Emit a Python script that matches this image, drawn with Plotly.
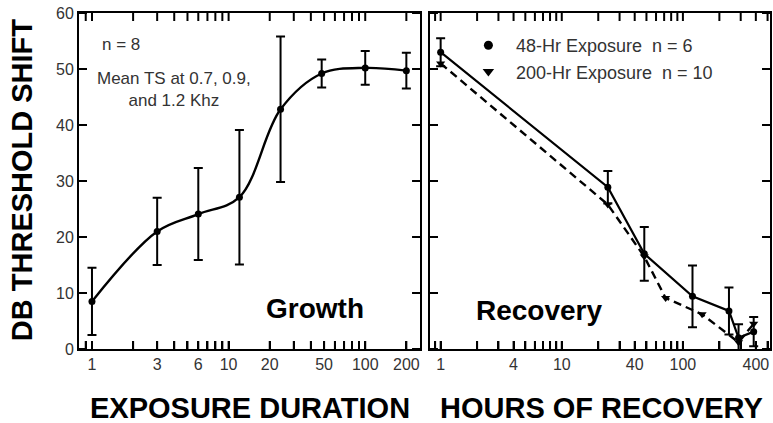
import plotly.graph_objects as go

# Growth of threshold shift with exposure duration (mean of 0.7, 0.9, 1.2 kHz)
growth_hours = [1, 3, 6, 12, 24, 48, 100, 200]
growth_ts = [8.5, 21.0, 24.1, 27.1, 42.8, 49.2, 50.2, 49.7]
growth_err = [6.0, 6.0, 8.2, 12.0, 13.0, 2.5, 3.0, 3.2]

# Recovery after a 48-hour exposure (with error bars)
rec48_hours = [1, 24, 48, 120, 240, 288, 384]
rec48_ts = [53.0, 28.9, 17.0, 9.4, 6.8, 2.0, 3.1]
rec48_err = [2.5, 2.9, 4.8, 5.5, 4.2, 2.4, 2.6]

# Recovery after a 200-hour exposure
rec200_hours = [1, 24, 48, 72, 144, 288, 384]
rec200_ts = [51.0, 25.8, 16.5, 9.1, 6.2, 1.2, 4.5]

growth_ticks = [1, 3, 6, 10, 20, 50, 100, 200]
growth_minor = [0.9, 2, 4, 5, 7, 8, 9, 30, 40, 60, 70, 80, 90]
recovery_ticks = [1, 4, 10, 40, 100, 400]
recovery_minor = [0.9, 2, 3, 5, 6, 7, 8, 9, 20, 30, 50, 60, 70, 80, 90, 200, 300, 500]
y_ticks = [0, 10, 20, 30, 40, 50, 60]

FONT = "Liberation Sans, Arial, sans-serif"
INK = "black"
GREY = "#333333"

W, H = 773, 423
ML, MR, MT, MB = 79, 1, 13, 74
PW = W - ML - MR
PH = H - MT - MB
TICK_LEN = 8  # px, pointing into each panel

GROWTH_RANGE = [-0.095, 2.401]      # log10 hours
RECOVERY_RANGE = [-0.088, 2.719]    # log10 hours
Y_RANGE = [0, 60]


def px_x(p):
    return (p - ML) / PW


def px_y(p):
    return (H - MB - p) / PH


def log_ticks(labelled, unlabelled):
    vals = sorted(labelled + unlabelled)
    text = [str(v) if v in labelled else "" for v in vals]
    return vals, text


fig = go.Figure()

fig.add_trace(go.Scatter(
    x=growth_hours, y=growth_ts, xaxis="x", yaxis="y",
    mode="lines+markers", line=dict(color=INK, width=2.4, shape="spline", smoothing=1.0),
    marker=dict(symbol="circle", size=7, color=INK),
    error_y=dict(type="data", array=growth_err, color=INK, thickness=2, width=4.5),
    showlegend=False, cliponaxis=False,
))

fig.add_trace(go.Scatter(
    x=rec200_hours, y=rec200_ts, xaxis="x2", yaxis="y2",
    mode="lines+markers", line=dict(color=INK, width=2.4, dash="8px,5px"),
    marker=dict(symbol="triangle-down", size=8, color=INK),
    showlegend=False, cliponaxis=False,
))

fig.add_trace(go.Scatter(
    x=rec48_hours, y=rec48_ts, xaxis="x2", yaxis="y2",
    mode="lines+markers", line=dict(color=INK, width=2.2),
    marker=dict(symbol="circle", size=7, color=INK),
    error_y=dict(type="data", array=rec48_err, color=INK, thickness=2, width=4.5),
    showlegend=False, cliponaxis=False,
))

# legend entries
fig.add_trace(go.Scatter(
    x=[None], y=[None], xaxis="x2", yaxis="y2", mode="markers",
    marker=dict(symbol="circle", size=9, color=INK),
    name="48-Hr Exposure  n = 6",
))
fig.add_trace(go.Scatter(
    x=[None], y=[None], xaxis="x2", yaxis="y2", mode="markers",
    marker=dict(symbol="triangle-down", size=10, color=INK),
    name="200-Hr Exposure  n = 10",
))

gx_vals, gx_text = log_ticks(growth_ticks, growth_minor)
rx_vals, rx_text = log_ticks(recovery_ticks, recovery_minor)

left_end = px_x(421)
right_start = px_x(431)
panel_w = {"x": (left_end - 0) * PW, "x2": (1 - right_start) * PW}


# inward tick marks on all four sides of each panel, as axis-referenced shapes
def frame_ticks(xa, ya, xvals):
    shapes = []
    dy = TICK_LEN / PH
    dx = TICK_LEN / panel_w[xa]
    line = dict(color=INK, width=2)
    for v in xvals:
        for y0, y1 in ((0, dy), (1, 1 - dy)):
            shapes.append(dict(type="line", xref=xa, yref=f"{ya} domain",
                               x0=v, x1=v, y0=y0, y1=y1, line=line, layer="above"))
    for v in y_ticks:
        for x0, x1 in ((0, dx), (1, 1 - dx)):
            shapes.append(dict(type="line", xref=f"{xa} domain", yref=ya,
                               x0=x0, x1=x1, y0=v, y1=v, line=line, layer="above"))
    return shapes


fig.update_layout(
    width=W, height=H,
    margin=dict(l=ML, r=MR, t=MT, b=MB),
    paper_bgcolor="white", plot_bgcolor="white",
    font=dict(family=FONT, color=GREY),
    xaxis=dict(
        domain=[0, left_end], type="log", range=GROWTH_RANGE,
        tickmode="array", tickvals=gx_vals, ticktext=gx_text, anchor="y",
    ),
    yaxis=dict(domain=[0, 1], range=Y_RANGE, tickmode="array", tickvals=y_ticks, anchor="x"),
    xaxis2=dict(
        domain=[right_start, 1], type="log", range=RECOVERY_RANGE,
        tickmode="array", tickvals=rx_vals, ticktext=rx_text, anchor="y2",
    ),
    yaxis2=dict(domain=[0, 1], range=Y_RANGE, tickmode="array", tickvals=y_ticks,
                showticklabels=False, anchor="x2"),
    legend=dict(
        x=px_x(462), y=px_y(27), xanchor="left", yanchor="top",
        bgcolor="rgba(0,0,0,0)", borderwidth=0,
        font=dict(family=FONT, size=18, color=GREY),
        itemwidth=45, tracegroupgap=0,
    ),
    shapes=frame_ticks("x", "y", gx_vals) + frame_ticks("x2", "y2", rx_vals),
)

frame = dict(
    showline=True, linecolor=INK, linewidth=2, mirror=True,
    ticks="inside", ticklen=TICK_LEN, tickwidth=2, tickcolor=INK,
    showgrid=False, zeroline=False,
    tickfont=dict(family=FONT, size=16, color=GREY),
)
fig.update_xaxes(**frame)
fig.update_yaxes(**frame)

annotations = [
    dict(text="n = 8", x=px_x(100), y=px_y(44), xanchor="left", yanchor="middle",
         font=dict(size=17, color=GREY)),
    dict(text="Mean TS at 0.7, 0.9,<br>and 1.2 Khz", x=px_x(174), y=px_y(90),
         xanchor="center", yanchor="middle", align="center",
         font=dict(size=17, color=GREY)),
    dict(text="<b>Growth</b>", x=px_x(315.5), y=px_y(308), xanchor="center",
         yanchor="middle", font=dict(size=28, color=INK)),
    dict(text="<b>Recovery</b>", x=px_x(540.5), y=px_y(310), xanchor="center",
         yanchor="middle", font=dict(size=28, color=INK)),
    dict(text="<b>DB THRESHOLD SHIFT</b>", x=px_x(22), y=px_y(180), textangle=-90,
         xanchor="center", yanchor="middle", font=dict(size=29, color=INK)),
    dict(text="<b>EXPOSURE DURATION</b>", x=px_x(250), y=px_y(408), xanchor="center",
         yanchor="middle", font=dict(size=29, color=INK)),
    dict(text="<b>HOURS OF RECOVERY</b>", x=px_x(603.5), y=px_y(408), xanchor="center",
         yanchor="middle", font=dict(size=29, color=INK)),
]
for a in annotations:
    a.update(xref="paper", yref="paper", showarrow=False)
    a["font"]["family"] = FONT
fig.update_layout(annotations=annotations)

fig.write_html("out.html")
